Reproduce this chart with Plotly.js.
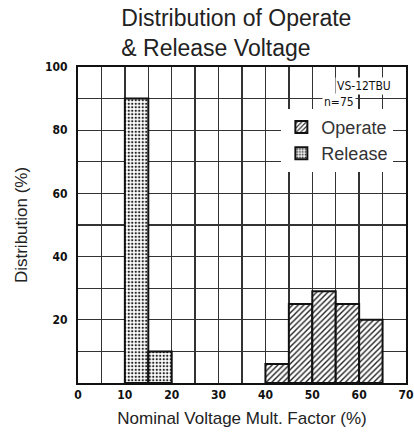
<!DOCTYPE html>
<html>
<head>
<meta charset="utf-8">
<script src="https://cdn.plot.ly/plotly-3.0.1.min.js"></script>
<style>html,body{margin:0;padding:0;background:#fff;}#chart{width:414px;height:436px;}</style>
</head>
<body>
<div id="chart"></div>
<script>
const releaseBins = [10, 15];
const releaseValues = [90, 10];
const operateBins = [40, 45, 50, 55, 60];
const operateValues = [6, 25, 29, 25, 20];
const xTickVals = [0, 10, 20, 30, 40, 50, 60, 70];
const yTickVals = [20, 40, 60, 80, 100];
const modelLabel = "VS-12TBU";
const sampleLabel = "n=75";

const tickFont = {family: "DejaVu Sans Condensed, DejaVu Sans, sans-serif", size: 12, color: "#111", weight: "bold"};
const smallFont = {family: "DejaVu Sans Condensed, DejaVu Sans, sans-serif", size: 12, color: "#111"};

const traces = [
  {
    type: "bar", name: "Operate", x: operateBins, y: operateValues,
    width: 5, offset: 0,
    marker: {color: "white", line: {color: "#111", width: 2},
      pattern: {shape: "/", fgcolor: "#222", bgcolor: "white", size: 4, solidity: 0.35}}
  },
  {
    type: "bar", name: "Release", x: releaseBins, y: releaseValues,
    width: 5, offset: 0,
    marker: {color: "white", line: {color: "#111", width: 2},
      pattern: {shape: ".", fgcolor: "#222", bgcolor: "white", size: 3.5, solidity: 0.35}}
  }
];

const layout = {
  width: 414, height: 436,
  margin: {l: 78, r: 8, t: 67, b: 53},
  paper_bgcolor: "white", plot_bgcolor: "white",
  showlegend: true,
  barmode: "overlay",
  title: {
    text: "Distribution of Operate<br>& Release Voltage",
    font: {family: "Liberation Sans, Arial, sans-serif", size: 23, color: "#222"},
    x: 0.293, xref: "container", xanchor: "left", y: 0.94, yref: "container", yanchor: "top"
  },
  xaxis: {
    range: [0, 70], tickvals: xTickVals, ticks: "", tickfont: tickFont,
    showgrid: true, gridcolor: "#333", gridwidth: 1.3,
    minor: {dtick: 5, tick0: 0, showgrid: true, gridcolor: "#333", gridwidth: 1.3},
    showline: true, linecolor: "#111", linewidth: 2, mirror: true, zeroline: false,
    title: {text: "Nominal Voltage Mult. Factor (%)", font: {family: "Liberation Sans, Arial, sans-serif", size: 17, color: "#222"}, standoff: 11}
  },
  yaxis: {
    range: [0, 100], tickvals: yTickVals, ticks: "", tickfont: tickFont, ticklabelstandoff: 6,
    showgrid: true, gridcolor: "#333", gridwidth: 1.3,
    minor: {dtick: 10, tick0: 0, showgrid: true, gridcolor: "#333", gridwidth: 1.3},
    showline: true, linecolor: "#111", linewidth: 2, mirror: true, zeroline: false,
    title: {text: "Distribution (%)", font: {family: "Liberation Sans, Arial, sans-serif", size: 17, color: "#222"}, standoff: 13}
  },
  legend: {
    x: 0.62, y: 0.868, xanchor: "left", yanchor: "top",
    bgcolor: "white", borderwidth: 0,
    font: {family: "Liberation Sans, Arial, sans-serif", size: 18, color: "#333"},
    tracegroupgap: 0, itemsizing: "constant"
  },
  annotations: [
    {text: modelLabel, xref: "paper", yref: "paper", x: 0.96, y: 0.94, xanchor: "right", yanchor: "middle",
     showarrow: false, bgcolor: "white", font: smallFont},
    {text: sampleLabel, xref: "paper", yref: "paper", x: 0.745, y: 0.888, xanchor: "left", yanchor: "middle",
     showarrow: false, bgcolor: "white", font: smallFont}
  ]
};

Plotly.newPlot("chart", traces, layout, {displayModeBar: false, staticPlot: true});
</script>
</body>
</html>
